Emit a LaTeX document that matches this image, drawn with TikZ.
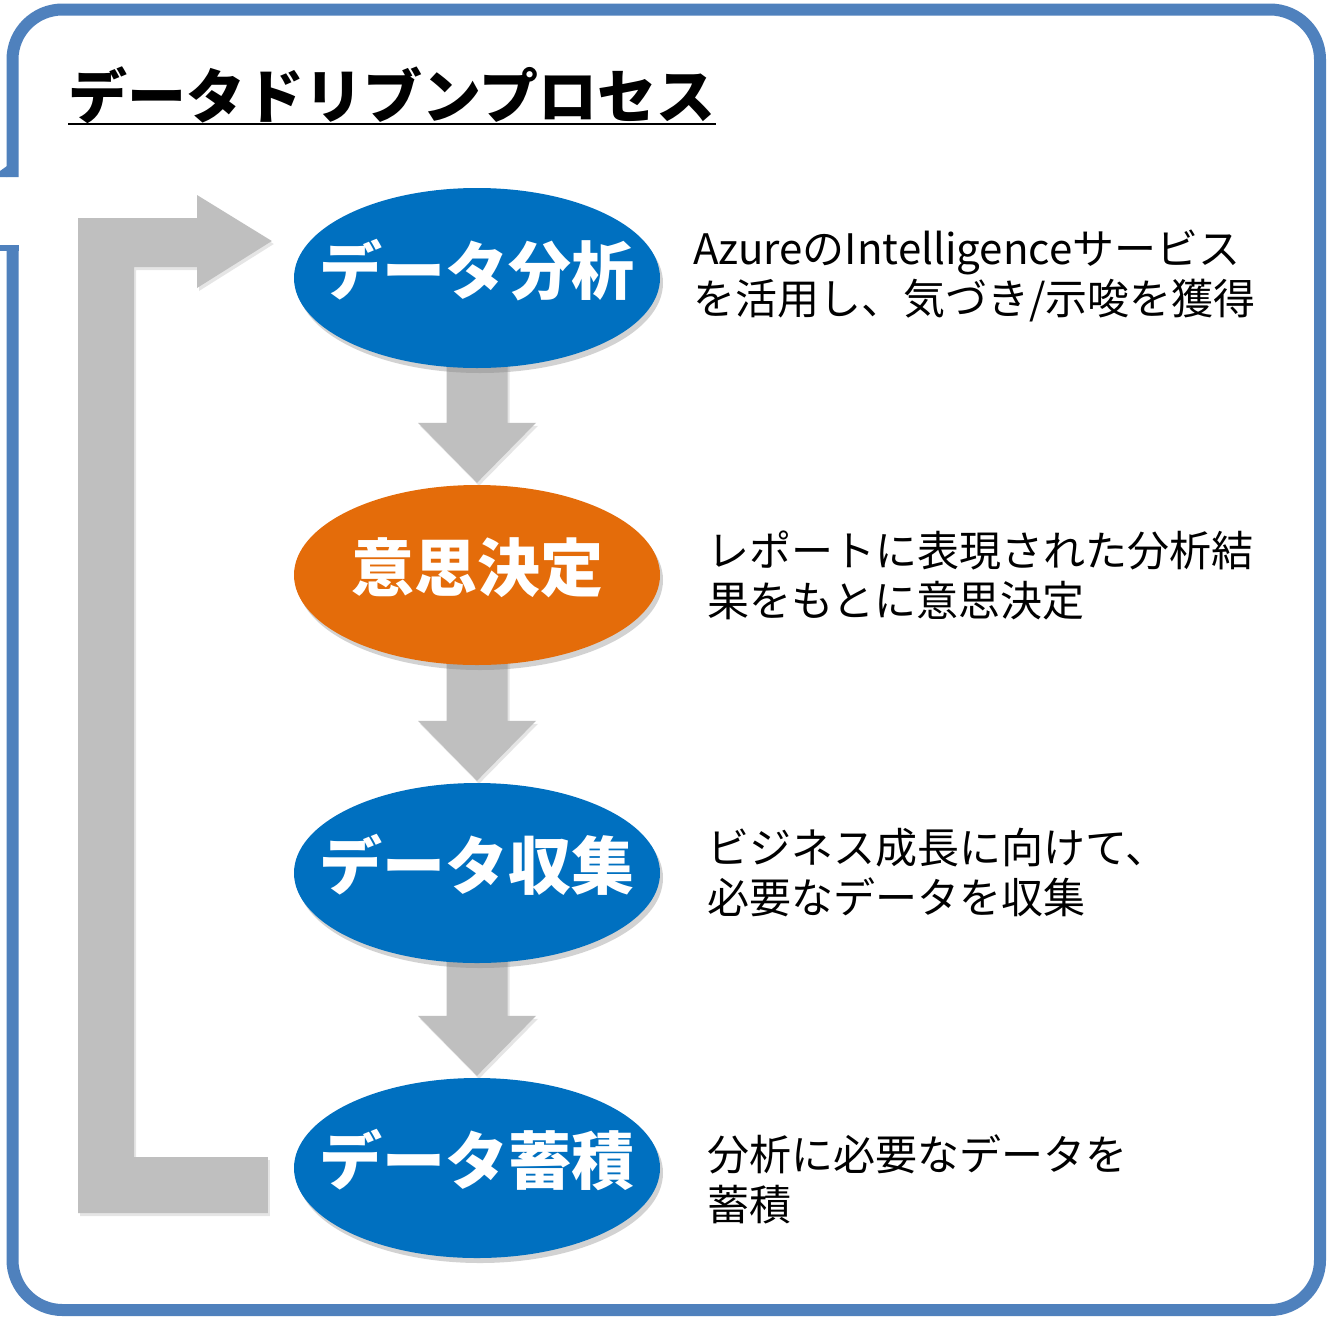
\documentclass[tikz,border=0pt]{standalone}
\usepackage{fontspec}
\newfontfamily\cjk{Noto Sans CJK JP}
\newfontfamily\cjkblack{Noto Sans CJK JP Black}
\usetikzlibrary{shapes.geometric,shadows,calc}
\pgfdeclarelayer{bgbg}
\pgfdeclarelayer{bg}
\pgfsetlayers{bgbg,bg,main}
\definecolor{bordblue}{HTML}{4F81BD}
\definecolor{ellblue}{HTML}{0070C0}
\definecolor{ellorange}{HTML}{E46C0A}
\definecolor{arrgray}{HTML}{BFBFBF}
\newcommand\elltext[1]{\makebox[0pt]{\raisebox{-16pt}[0pt][0pt]{#1}}}
\tikzset{
  ell/.style={ellipse, minimum width=366pt, minimum height=180pt, inner sep=0pt,
    text=white, font=\cjk\bfseries\fontsize{63}{63}\selectfont,
    drop shadow={opacity=0.35, shadow xshift=3pt, shadow yshift=-5pt}},
  desc/.style={anchor=west, align=left, inner sep=0pt, font=\cjk\fontsize{42}{50}\selectfont},
  blockarrow/.style={fill=arrgray, drop shadow={opacity=0.2, shadow xshift=2pt, shadow yshift=-3pt}},
  frame/.style={draw=bordblue, line width=12pt, rounded corners=50pt}
}
\begin{document}
\begin{tikzpicture}[x=1pt,y=-1pt]
\useasboundingbox (0,0) rectangle (1335,1320);
\begin{pgfonlayer}{bgbg}
\fill[white] (0,0) rectangle (1335,1320);
\draw[frame] (12.5,245) -- (12.5,1310) -- (1320,1310) -- (1320,9.5) -- (12.5,9.5) -- (12.5,177);
\fill[bordblue] (0,171) -- (7,166) -- (7,177) -- (0,177) -- cycle;
\fill[bordblue] (0,245) -- (18.5,245) -- (18.5,251) -- (0,251) -- cycle;
\end{pgfonlayer}
% title
\node[anchor=base west, inner sep=0pt, font=\cjkblack\fontsize{59}{59}\selectfont] (title) at (68,118) {データドリブンプロセス};
\draw[line width=2.5pt] ($(title.base west)+(0,6)$) -- ($(title.base east)+(0,6)$);
% ellipses
\node[ell, fill=ellblue] (e1) at (477,278) {\elltext{データ分析}};
\node[ell, fill=ellorange] (e2) at (477,575) {\elltext{意思決定}};
\node[ell, fill=ellblue] (e3) at (477,873) {\elltext{データ収集}};
\node[ell, fill=ellblue] (e4) at (477,1168) {\elltext{データ蓄積}};
% down arrows
\begin{pgfonlayer}{bg}
\foreach \a/\b in {e1/e2, e2/e3, e3/e4}{
  \fill[blockarrow] ($(\a.south)+(-30.5,-6)$) -- ($(\b.north)+(-30.5,-62)$) -- ($(\b.north)+(-59,-62)$)
    -- ($(\b.north)+(0,-2)$) -- ($(\b.north)+(59,-62)$) -- ($(\b.north)+(30.5,-62)$)
    -- ($(\a.south)+(30.5,-6)$) -- cycle;
}
% feedback arrow
\coordinate (tipf) at ($(e1.west)+(-22,-37)$);
\coordinate (tailf) at ($(e4.west)+(-26,17)$);
\fill[blockarrow] ($(tailf)+(0,-28)$) -- (134,1157) -- (134,267) -- (197,267) -- (197,288)
  -- (tipf) -- (197,195) -- (197,218) -- (78,218) -- (78,1213) -- ($(tailf)+(0,28)$) -- cycle;
\end{pgfonlayer}
% descriptions
\node[desc] (d1) at (693,276) {AzureのIntelligenceサービス\\を活用し、気づき/示唆を獲得};
\node[desc] (d2) at (707,575) {レポートに表現された分析結\\果をもとに意思決定};
\node[desc] (d3) at (707,873) {ビジネス成長に向けて、\\必要なデータを収集};
\node[desc] (d4) at (707,1179) {分析に必要なデータを\\蓄積};
\end{tikzpicture}
\end{document}
